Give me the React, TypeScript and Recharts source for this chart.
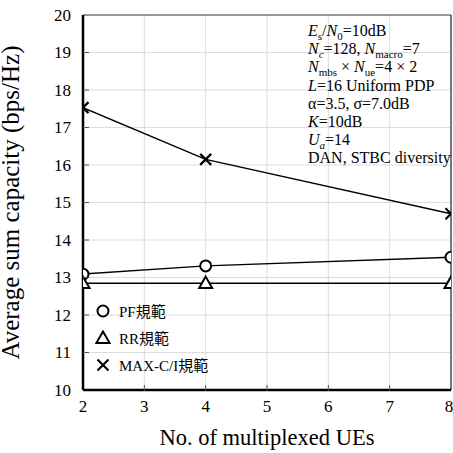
import { LineChart, Line, XAxis, YAxis, CartesianGrid, ReferenceLine } from 'recharts'

const users = [2, 4, 8]
const pfCapacity = [13.09, 13.31, 13.54]
const rrCapacity = [12.85, 12.85, 12.85]
const maxciCapacity = [17.53, 16.15, 14.7]
const xTicks = [2, 3, 4, 5, 6, 7, 8]
const yTicks = [10, 11, 12, 13, 14, 15, 16, 17, 18, 19, 20]

const SERIES = [
  { key: 'pf', name: 'PF規範', shape: 'circle' },
  { key: 'rr', name: 'RR規範', shape: 'triangle' },
  { key: 'maxci', name: 'MAX-C/I規範', shape: 'cross' },
]

const data = users.map((u, i) => ({ users: u, pf: pfCapacity[i], rr: rrCapacity[i], maxci: maxciCapacity[i] }))

const FONT = '"Liberation Serif", "Times New Roman", "Noto Sans CJK JP", serif'

function Marker({ shape, cx, cy }: { shape: string; cx: number; cy: number }) {
  if (shape === 'circle') return <circle cx={cx} cy={cy} r={5.5} fill="#fff" stroke="#000" strokeWidth={2} />
  if (shape === 'triangle') {
    const r = 6.5
    return <path d={`M${cx},${cy - r}L${cx + r},${cy + r * 0.75}L${cx - r},${cy + r * 0.75}Z`} fill="#fff" stroke="#000" strokeWidth={2} />
  }
  const r = 5.5
  return <path d={`M${cx - r},${cy - r}L${cx + r},${cy + r}M${cx - r},${cy + r}L${cx + r},${cy - r}`} stroke="#000" strokeWidth={2.2} fill="none" />
}

const dotFor = (shape: string) => (p: any) => <Marker key={`${shape}-${p.index}`} shape={shape} cx={p.cx} cy={p.cy} />

function YTick(props: any) {
  const { x, y, payload } = props
  return (
    <g>
      {payload.value > 10 && payload.value < 20 && <line x1={x + 12} x2={x + 18} y1={y} y2={y} stroke="#555" strokeWidth={1} />}
      <text x={x} y={y} dy="0.35em" textAnchor="end" fontSize={17} fontFamily={FONT} fill="#000">{payload.value}</text>
    </g>
  )
}

function XTick(props: any) {
  const { x, y, payload } = props
  return (
    <g>
      {payload.value > 2 && payload.value < 8 && <line x1={x} x2={x} y1={y - 9} y2={y - 15} stroke="#555" strokeWidth={1} />}
      <text x={x} y={y} dy="0.71em" textAnchor="middle" fontSize={17} fontFamily={FONT} fill="#000">{payload.value}</text>
    </g>
  )
}

const Sub = ({ children }: { children: any }) => (
  <span style={{ fontSize: 11, position: 'relative', top: 4, lineHeight: 0 }}>{children}</span>
)

const noteLines = [
  <><i>E</i><Sub>s</Sub>/<i>N</i><Sub>0</Sub>=10dB</>,
  <><i>N</i><Sub><i>c</i></Sub>=128, <i>N</i><Sub>macro</Sub>=7</>,
  <><i>N</i><Sub>mbs</Sub> × <i>N</i><Sub>ue</Sub>=4 × 2</>,
  <><i>L</i>=16 Uniform PDP</>,
  <>α=3.5, σ=7.0dB</>,
  <><i>K</i>=10dB</>,
  <><i>U</i><Sub><i>a</i></Sub>=14</>,
  <>DAN, STBC diversity</>,
]

export default function App() {
  return (
    <div style={{ position: 'absolute', left: 0, top: 0, width: 453, height: 453, background: '#fff', fontFamily: FONT }}>
      <LineChart width={453} height={453} data={data} margin={{ top: 15, right: 2, bottom: 0, left: 0 }}>
        <CartesianGrid stroke="#dcdcdc" strokeWidth={1} />
        <XAxis dataKey="users" type="number" domain={[2, 8]} ticks={xTicks} allowDataOverflow
          height={63} tickSize={0} tickMargin={10} tick={<XTick />}
          axisLine={{ stroke: '#000', strokeWidth: 2.5 }}
          label={{ value: 'No. of multiplexed UEs', position: 'insideBottom', offset: 8, fontSize: 22.5, fontFamily: FONT, fill: '#000' }} />
        <YAxis type="number" domain={[10, 20]} ticks={yTicks} allowDataOverflow
          width={83} tickSize={0} tickMargin={12} tick={<YTick />}
          axisLine={{ stroke: '#000', strokeWidth: 2.5 }}
          label={{ value: 'Average sum capacity (bps/Hz)', angle: -90, position: 'insideLeft', offset: 10, style: { textAnchor: 'middle' }, fontSize: 25, fontFamily: FONT, fill: '#000' }} />
        <ReferenceLine y={20} stroke="#444" strokeWidth={1} />
        <ReferenceLine x={8} stroke="#000" strokeWidth={1} />
        {SERIES.map(s => (
          <Line key={s.key} dataKey={s.key} name={s.name} type="linear" stroke="#000" strokeWidth={1.5}
            dot={dotFor(s.shape)} activeDot={false} isAnimationActive={false} />
        ))}
      </LineChart>
      <div style={{ position: 'absolute', left: 95, top: 297, fontSize: 15, color: '#000' }}>
        {SERIES.map(s => (
          <div key={s.key} style={{ display: 'flex', alignItems: 'center', height: 27 }}>
            <svg width={16} height={16} style={{ marginRight: 8 }}>
              <Marker shape={s.shape} cx={8} cy={8} />
            </svg>
            <span>{s.name}</span>
          </div>
        ))}
      </div>
      <div style={{ position: 'absolute', left: 308, top: 22, fontSize: 16, lineHeight: '18.2px', color: '#000', whiteSpace: 'nowrap' }}>
        {noteLines.map((l, i) => (
          <div key={i} style={{ height: 18.2 }}>{l}</div>
        ))}
      </div>
    </div>
  )
}
